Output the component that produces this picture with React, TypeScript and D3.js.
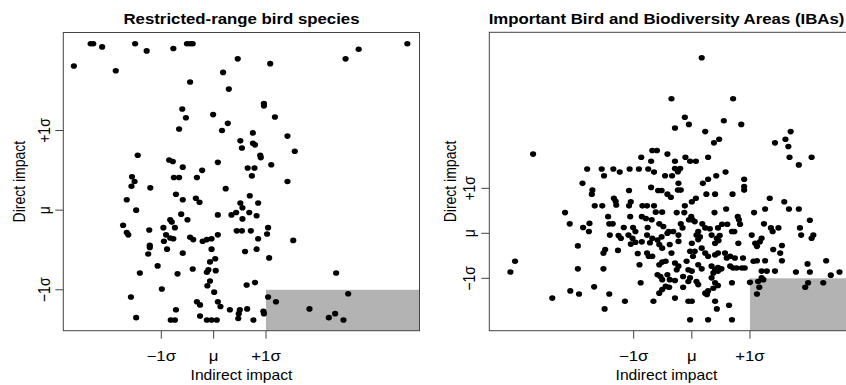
import React from 'react'
import * as d3 from 'd3'

// values in standard deviations from the mean (x = indirect, y = direct)
const restrictedRange: [number, number][] = [
  [-2.35, 2.09], [-2.30, 2.09], [-2.13, 2.05], [-1.50, 2.09], [-1.28, 2.00], [-0.77, 2.03],
  [-0.51, 2.09], [-0.45, 2.09], [-0.40, 2.09], [3.70, 2.09], [2.77, 2.02], [2.52, 1.90],
  [0.46, 1.90], [1.08, 1.84], [-2.67, 1.81], [-1.87, 1.75], [0.18, 1.73], [-0.45, 1.61],
  [0.29, 1.52], [0.96, 1.34], [0.96, 1.31], [-0.60, 1.27], [-0.53, 1.16], [-0.01, 1.20],
  [1.17, 1.17], [0.27, 1.09], [-0.66, 1.02], [0.16, 1.00], [0.75, 0.97],
  [1.41, 0.93], [0.51, 0.87], [0.75, 0.84], [0.79, 0.82], [0.54, 0.78], [0.89, 0.69],
  [0.90, 0.66], [1.55, 0.74], [-1.45, 0.69], [-0.85, 0.63], [-0.78, 0.61], [0.08, 0.60],
  [-0.59, 0.54], [-0.22, 0.50], [0.65, 0.53], [0.78, 0.53], [1.10, 0.57], [0.73, 0.43],
  [-1.56, 0.42], [-1.51, 0.36], [-1.57, 0.30], [-0.76, 0.41], [-0.66, 0.41], [-0.32, 0.41],
  [1.41, 0.36], [-1.21, 0.28], [0.23, 0.27], [-0.72, 0.20], [-0.59, 0.13], [-0.34, 0.15],
  [-0.27, 0.10], [0.69, 0.18], [0.51, 0.09], [0.55, 0.03], [0.85, 0.09], [-1.66, 0.13],
  [-1.48, 0.00], [-0.62, -0.05], [-0.50, -0.12], [0.08, -0.06], [0.34, -0.06], [0.43, -0.03],
  [0.68, -0.03], [0.55, -0.11], [0.82, -0.07], [-1.73, -0.19], [-0.83, -0.12], [-0.80, -0.15],
  [-0.74, -0.22], [-0.96, -0.22], [-1.23, -0.25], [1.04, -0.22],
  [-1.63, -0.31], [-1.66, -0.28], [-0.91, -0.31], [-0.95, -0.39], [-0.83, -0.35], [-0.77, -0.36],
  [-0.45, -0.34], [-0.39, -0.37], [-0.21, -0.39], [-0.13, -0.37], [-0.04, -0.36], [0.08, -0.31],
  [-1.22, -0.44], [-1.22, -0.47], [-1.25, -0.55], [-0.89, -0.49], [-0.59, -0.54], [-0.04, -0.49],
  [0.03, -0.61], [-0.07, -0.65], [0.44, -0.26], [0.54, -0.26], [0.71, -0.26], [0.85, -0.36],
  [1.02, -0.30], [1.52, -0.38], [0.60, -0.52], [0.82, -0.49], [1.06, -0.60], [-1.41, -0.79],
  [-1.07, -0.70], [-0.69, -0.80], [-0.40, -0.74], [-0.13, -0.78], [-0.10, -0.75], [0.04, -0.76],
  [-0.07, -0.89], [-0.12, -0.95], [0.01, -1.03], [-0.99, -0.99], [0.63, -0.94], [0.79, -0.91],
  [2.34, -0.79], [-1.58, -1.09], [-0.32, -1.15], [-0.26, -1.19], [0.08, -1.15], [0.13, -1.21],
  [0.31, -1.25], [0.50, -1.25], [0.48, -1.30], [0.47, -1.36], [0.64, -1.24], [-0.72, -1.25],
  [-1.48, -1.35], [-0.82, -1.38], [-0.74, -1.38], [-0.26, -1.33], [-0.13, -1.38], [-0.04, -1.38],
  [0.06, -1.38], [0.76, -1.38], [0.95, -1.27], [0.96, -1.30], [1.04, -1.09], [1.19, -1.15],
  [1.83, -1.24], [2.57, -1.05], [2.20, -1.35], [2.32, -1.30], [2.48, -1.38]
]

const ibas: [number, number][] = [
  [0.17, 3.90], [-0.35, 2.99], [0.71, 2.99], [-0.12, 2.58], [-0.05, 2.42], [-0.29, 2.34],
  [0.55, 2.50], [0.85, 2.42], [0.23, 2.26], [0.47, 2.09], [0.38, 2.01], [1.43, 2.01],
  [1.61, 2.09], [1.70, 2.26], [1.66, 1.93], [-2.73, 1.76], [-0.68, 1.84], [-0.60, 1.84],
  [-0.42, 1.76], [-0.87, 1.69], [-0.11, 1.69], [0.28, 1.69], [1.68, 1.69], [2.06, 1.69],
  [-0.70, 1.60], [-0.29, 1.60], [-0.03, 1.60], [0.07, 1.60], [1.84, 1.52], [-1.80, 1.43],
  [-1.55, 1.43], [-1.51, 1.28], [-1.35, 1.43], [-1.24, 1.36], [-1.07, 1.43], [-0.91, 1.43],
  [-0.75, 1.43], [-0.65, 1.36], [-0.46, 1.28], [-0.34, 1.28], [-0.29, 1.44], [-0.20, 1.44],
  [-0.24, 1.37], [0.58, 1.36], [0.42, 1.28], [0.28, 1.20], [0.19, 1.11], [0.90, 1.20],
  [0.90, 1.04], [0.90, 0.96], [-0.23, 1.11], [-0.24, 0.96], [-0.19, 0.96], [-1.88, 1.11],
  [-1.71, 0.96], [-1.72, 0.87], [-1.08, 0.95], [-0.70, 1.02], [-0.58, 0.95], [-0.52, 0.95],
  [-0.42, 0.87], [-0.36, 0.80], [0.25, 0.87], [0.40, 0.87], [0.70, 0.87], [1.34, 0.78],
  [1.59, 0.70], [1.67, 0.54], [1.84, 0.54], [1.26, 0.54], [1.07, 0.46], [0.59, 0.54],
  [0.39, 0.46], [0.07, 0.78], [0.00, 0.70], [-0.12, 0.61], [-0.26, 0.46], [-0.13, 0.46],
  [-0.01, 0.37], [0.01, 0.30], [-0.05, 0.30], [0.05, 0.26], [-0.19, 0.21], [-0.16, 0.12],
  [0.18, 0.21], [0.23, 0.12], [0.31, 0.10], [0.45, 0.12], [0.52, 0.20], [0.61, 0.20],
  [0.79, 0.37], [0.81, 0.30], [0.83, 0.20], [0.73, 0.04], [0.69, 0.04], [1.24, 0.21],
  [1.36, 0.12], [1.39, 0.04], [1.49, 0.12], [1.86, 0.12], [2.03, 0.29], [1.88, -0.04],
  [2.09, -0.04], [2.06, -0.11], [1.03, -0.04], [-0.40, 0.04], [-0.32, 0.04], [-0.23, -0.04],
  [0.11, 0.04], [0.08, -0.04], [0.14, -0.08], [0.34, -0.04], [0.43, -0.11], [0.48, -0.05],
  [1.20, -0.11], [-1.34, 0.78], [-1.31, 0.71], [-1.30, 0.63], [-1.67, 0.61], [-1.54, 0.61],
  [-1.05, 0.70], [-1.08, 0.61], [-0.85, 0.61], [-0.77, 0.61], [-0.65, 0.61], [-2.18, 0.46],
  [-2.10, 0.21], [-1.87, 0.13], [-1.76, 0.22], [-1.77, 0.04], [-1.44, 0.37], [-1.42, 0.21],
  [-1.36, 0.21], [-1.06, 0.37], [-0.86, 0.37], [-0.79, 0.33], [-0.62, 0.47], [-0.51, 0.47],
  [-0.69, 0.30], [-0.56, 0.21], [-0.49, 0.15], [-1.17, 0.13], [-1.01, 0.13], [-0.97, 0.04],
  [-0.76, 0.13], [-1.41, -0.04], [-1.26, -0.05], [-1.22, -0.11], [-1.09, -0.04], [-1.02, -0.11],
  [-0.97, -0.20], [-0.77, -0.04], [-0.68, -0.11], [-0.59, -0.15], [-0.52, -0.08], [-0.42, 0.00],
  [-3.12, -0.86], [-3.04, -0.62], [-2.40, -1.44], [-2.09, -1.28], [-1.94, -1.35], [-1.96, -0.79],
  [-1.96, -0.28], [-1.68, -1.19], [-1.52, -0.79], [-1.50, -1.68], [-1.42, -1.35], [-1.52, -0.44],
  [-1.49, -0.36], [-1.27, -0.38], [-1.15, -1.51], [-0.88, -1.10], [-0.90, -0.70], [-0.93, -0.45],
  [-0.66, -1.51], [-1.05, -0.24], [-0.86, -0.19], [-0.72, -0.21], [-0.56, -0.25], [-0.51, -0.33],
  [-0.77, -0.44], [-0.74, -0.51], [-0.68, -0.51], [-0.56, -0.70], [-0.51, -0.64], [-0.45, -0.62],
  [-0.59, -0.92], [-0.54, -0.96], [-0.51, -1.03], [-0.42, -0.92], [-0.56, -1.33], [-0.51, -1.25],
  [-0.45, -1.18], [-0.39, -1.20], [-0.38, -0.25], [-0.23, -0.18], [0.00, -0.22], [0.11, -0.14],
  [0.40, -0.22], [0.46, -0.16], [0.80, -0.22], [1.09, -0.22], [1.17, -0.19], [1.12, -0.29],
  [1.40, -0.36], [1.55, -0.27], [1.52, -0.44], [-0.35, -0.44], [-0.03, -0.40], [0.05, -0.40],
  [0.02, -0.51], [0.17, -0.33], [0.23, -0.44], [0.28, -0.51], [0.40, -0.48], [0.45, -0.44],
  [0.57, -0.44], [0.60, -0.55], [0.66, -0.51], [0.74, -0.55], [0.88, -0.55], [1.06, -0.62],
  [1.12, -0.61], [1.26, -0.61], [1.55, -0.61], [2.31, -0.61], [1.99, -0.68], [-0.29, -0.66],
  [-0.23, -0.73], [-0.26, -0.81], [-0.09, -0.62], [-0.06, -0.81], [0.00, -0.84], [0.11, -0.70],
  [0.17, -0.79], [0.34, -0.73], [0.40, -0.81], [0.45, -0.84], [0.37, -0.88], [0.45, -0.76],
  [0.51, -0.79], [0.66, -0.73], [0.71, -0.77], [0.77, -0.77], [0.86, -0.77], [0.91, -0.77],
  [1.20, -0.84], [1.29, -0.84], [1.43, -0.84], [1.79, -0.86], [2.03, -0.86], [2.39, -0.93],
  [2.54, -0.86], [-0.38, -1.03], [-0.29, -1.05], [-0.15, -0.96], [-0.03, -0.99], [-0.06, -1.07],
  [0.08, -1.07], [0.11, -1.14], [0.34, -0.99], [0.40, -1.10], [0.45, -1.16], [0.37, -1.22],
  [0.69, -1.10], [1.00, -1.09], [1.20, -0.99], [1.23, -1.03], [1.14, -1.07], [1.16, -1.20],
  [1.12, -1.35], [2.00, -1.10], [1.95, -1.20], [2.26, -1.10], [-0.15, -1.20], [-0.29, -1.44],
  [0.23, -1.33], [0.28, -1.28], [0.26, -1.36], [-0.06, -1.51], [0.00, -1.51], [0.40, -1.51],
  [0.43, -1.68], [0.64, -1.60], [-0.03, -1.92], [0.28, -1.92], [0.69, -1.92]
]

const sigmaTicks = [-1, 0, 1]
const sigmaLabels = ['\u22121\u03c3', '\u03bc', '+1\u03c3']

const FONT = '"Liberation Sans", Arial, Helvetica, sans-serif'
// the source figure is a little stretched sideways
const SX = 1.2

type PanelProps = {
  title: string
  data: [number, number][]
  xDomain: [number, number]
  yDomain: [number, number]
  left: number
  right: number
  top: number
  bottom: number
  titleX: number
  yTitleX: number
  yTickLabelX: number
}

function Panel({ title, data, xDomain, yDomain, left, right, top, bottom, titleX, yTitleX, yTickLabelX }: PanelProps) {
  const x = d3.scaleLinear().domain(xDomain).range([left, right])
  const y = d3.scaleLinear().domain(yDomain).range([bottom, top])
  const cy = (top + bottom) / 2

  return (
    <g>
      {/* shaded: high indirect, low direct impact */}
      <rect
        x={x(1)}
        y={y(-1)}
        width={right - x(1)}
        height={bottom - y(-1)}
        fill="#b3b3b3"
      />
      {data.map((d, i) => (
        <ellipse key={i} cx={x(d[0])} cy={y(d[1])} rx={3.1} ry={2.8} fill="#000" />
      ))}
      <rect x={left} y={top} width={right - left} height={bottom - top}
        fill="none" stroke="#444" strokeWidth={1} />

      {sigmaTicks.map((t, i) => (
        <g key={'x' + i}>
          <line x1={x(t)} x2={x(t)} y1={bottom} y2={bottom + 8} stroke="#444" />
          <text transform={`translate(${x(t)},361) scale(${SX},1)`} textAnchor="middle"
            fontSize={14} fontFamily={FONT}>{sigmaLabels[i]}</text>
        </g>
      ))}
      {sigmaTicks.map((t, i) => (
        <g key={'y' + i}>
          <line x1={left - 8} x2={left} y1={y(t)} y2={y(t)} stroke="#444" />
          <text transform={`translate(${yTickLabelX},${y(t)}) rotate(-90) scale(1,${SX})`} textAnchor="middle"
            fontSize={14} fontFamily={FONT}>{sigmaLabels[i]}</text>
        </g>
      ))}

      <text transform={`translate(${titleX},24) scale(${SX},1)`} textAnchor="middle" fontSize={14}
        fontWeight="bold" fontFamily={FONT}>{title}</text>
      <text transform={`translate(${titleX},380) scale(1.12,1)`} textAnchor="middle" fontSize={14}
        fontFamily={FONT}>Indirect impact</text>
      <text transform={`translate(${yTitleX},${cy}) rotate(-90) scale(1,${SX})`} textAnchor="middle"
        fontSize={14} fontFamily={FONT}>Direct impact</text>
    </g>
  )
}

export default function App() {
  return (
    <div style={{ position: 'absolute', left: 0, top: 0 }}>
      <svg width={846} height={385} style={{ display: 'block', background: '#fff' }}>
        <Panel
          title="Restricted-range bird species"
          data={restrictedRange}
          xDomain={[-2.872, 3.932]}
          yDomain={[-1.514, 2.231]}
          left={63.3}
          right={419.5}
          top={32.5}
          bottom={330.7}
          titleX={241.5}
          yTitleX={25}
          yTickLabelX={50}
        />
        <Panel
          title="Important Bird and Biodiversity Areas (IBAs)"
          data={ibas}
          xDomain={[-3.483, 2.66]}
          yDomain={[-2.164, 4.467]}
          left={489.3}
          right={846.5}
          top={32.3}
          bottom={330.7}
          titleX={666.5}
          yTitleX={456}
          yTickLabelX={475}
        />
      </svg>
    </div>
  )
}
